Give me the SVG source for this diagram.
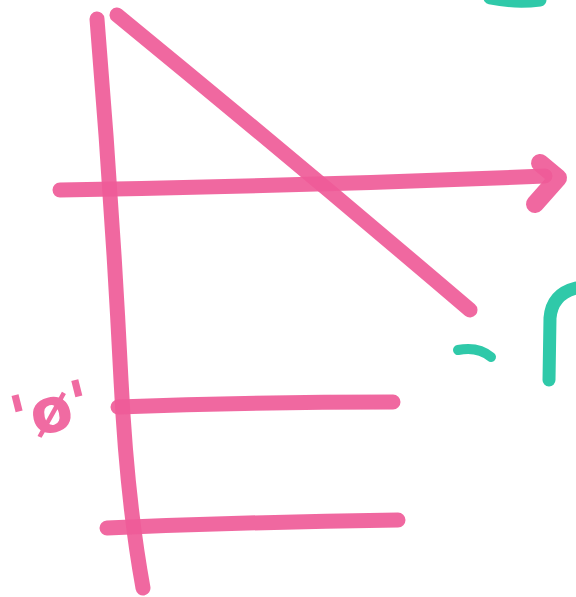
<svg xmlns="http://www.w3.org/2000/svg" width="576" height="597" viewBox="0 0 576 597">
<style>
.pk{fill:none;stroke:#ef5b98;stroke-width:15;stroke-linecap:round;stroke-linejoin:round;opacity:0.92}
.tl{fill:none;stroke:#2fc9a9;stroke-width:13;stroke-linecap:round;stroke-linejoin:round}
.lbl{font-family:"DejaVu Sans",sans-serif;font-weight:bold;font-size:62px;fill:#ef5b98;opacity:0.9}
</style>
<rect width="576" height="597" fill="#ffffff"/>
<g id="strokes">
<path class="pk" d="M97,19 Q112,200 121,380 Q127,500 143,588"/>
<path class="pk" d="M117,15 Q300,165 470,310"/>
<path class="pk" d="M60,190 Q300,186 545,176"/>
<path class="pk" d="M540,163 L558,178 L535,204" style="stroke-width:18"/>
<path class="pk" d="M118,407 Q250,402 393,402"/>
<path class="pk" d="M107,528 Q250,522 398,520"/>
</g>
<g id="teal">
<path class="tl" d="M490,-2 Q515,3 540,0"/>
<path class="tl" d="M458,350 Q478,346 491,357" style="stroke-width:10"/>
<path class="tl" d="M549,380 L550,318 Q552,294 576,288"/>
</g>
<g id="label">
<text class="lbl" x="8" y="430" transform="rotate(-14 58 400)">'ø'</text>
</g>
</svg>
